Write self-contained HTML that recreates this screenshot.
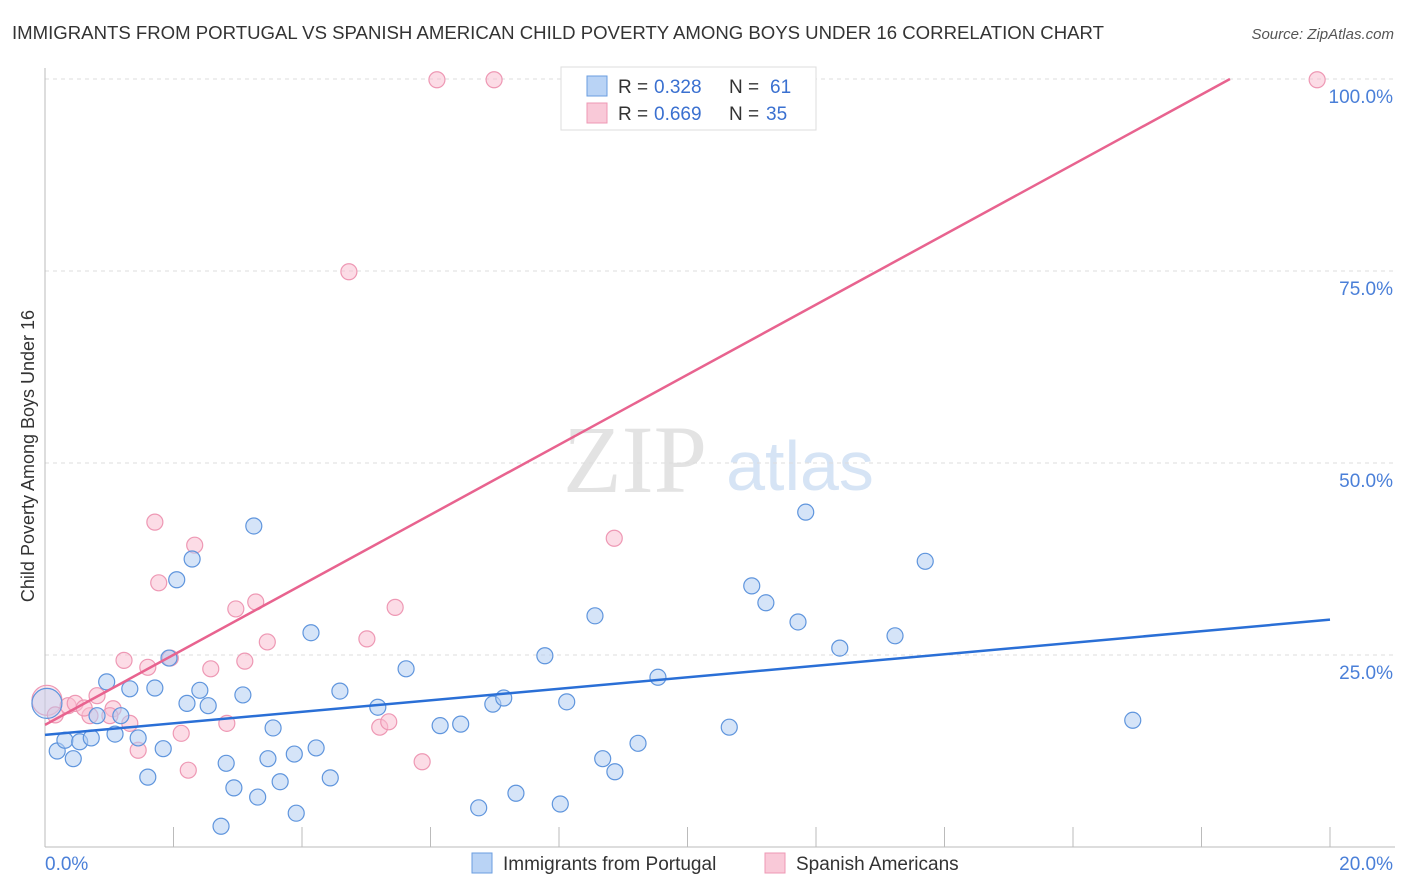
<!DOCTYPE html>
<html><head><meta charset="utf-8"><style>
body{margin:0;background:#fff;font-family:"Liberation Sans",sans-serif;}
svg{display:block}
</style></head><body>
<svg id="chart" width="1406" height="892">
<text x="12" y="39" font-size="18" fill="#333" textLength="1092" lengthAdjust="spacingAndGlyphs">IMMIGRANTS FROM PORTUGAL VS SPANISH AMERICAN CHILD POVERTY AMONG BOYS UNDER 16 CORRELATION CHART</text>
<text x="1394" y="39" font-size="15" fill="#555" font-style="italic" text-anchor="end">Source: ZipAtlas.com</text>
<text x="635" y="492" font-size="96" fill="#e3e3e3" font-family="Liberation Serif,serif" text-anchor="middle">ZIP</text>
<text x="800" y="490" font-size="70" fill="#d6e4f5" text-anchor="middle">atlas</text>
<text transform="translate(34,456) rotate(-90)" font-size="18" fill="#333" text-anchor="middle">Child Poverty Among Boys Under 16</text>
<g id="grid"></g><g id="pts"></g><g id="lines"></g>
<g>
<rect x="561" y="67" width="255" height="63" fill="#fff" stroke="#ddd"/>
<rect x="587" y="76" width="20" height="20" fill="#b9d3f5" stroke="#6a9ee0"/>
<rect x="587" y="103" width="20" height="20" fill="#f9c9d8" stroke="#ee98b4"/>
<text x="618" y="93" font-size="19" fill="#333">R =</text>
<text x="654" y="93" font-size="19" fill="#3a70d0">0.328</text>
<text x="729" y="93" font-size="19" fill="#333">N =</text>
<text x="770" y="93" font-size="19" fill="#3a70d0">61</text>
<text x="618" y="120" font-size="19" fill="#333">R =</text>
<text x="654" y="120" font-size="19" fill="#3a70d0">0.669</text>
<text x="729" y="120" font-size="19" fill="#333">N =</text>
<text x="766" y="120" font-size="19" fill="#3a70d0">35</text>
</g>
<rect x="472" y="853" width="20" height="20" fill="#b9d3f5" stroke="#6a9ee0"/>
<text x="503" y="870" font-size="19" fill="#333">Immigrants from Portugal</text>
<rect x="765" y="853" width="20" height="20" fill="#f9c9d8" stroke="#ee98b4"/>
<text x="796" y="870" font-size="19" fill="#333">Spanish Americans</text>
</svg>
<script>
const xTicks=[0,2,4,6,8,10,12,14,16,18,20];
const yTicks=[25,50,75,100];
const yTickLabels=["25.0%","50.0%","75.0%","100.0%"];
const blueX=[0.03,0.19,0.44,0.31,0.54,0.72,0.81,0.96,1.09,1.18,1.32,1.45,1.60,1.71,1.84,1.93,2.05,2.21,2.29,2.41,2.54,2.82,2.94,3.08,3.25,3.31,3.47,3.55,3.66,3.88,3.91,4.14,4.22,4.44,4.59,5.18,5.62,6.15,6.47,6.75,6.97,7.14,7.33,7.78,8.02,8.12,8.56,8.68,8.87,9.23,9.54,2.74,10.65,11.00,11.22,11.72,11.84,12.37,13.23,13.70,16.93];
const blueY=[18.7,12.5,11.5,13.9,13.7,14.2,17.1,21.5,14.7,17.1,20.6,14.2,9.1,20.7,12.8,24.6,34.8,18.7,37.5,20.4,18.4,10.9,7.7,19.8,41.8,6.5,11.5,15.5,8.5,12.1,4.4,27.9,12.9,9.0,20.3,18.2,23.2,15.8,16.0,5.1,18.6,19.4,7.0,24.9,5.6,18.9,30.1,11.5,9.8,13.5,22.1,2.7,15.6,34.0,31.8,29.3,43.6,25.9,27.5,37.2,16.5];
const pinkX=[0.03,0.16,0.36,0.47,0.81,0.70,1.06,1.01,1.23,1.32,1.45,1.60,1.71,1.77,1.95,2.12,2.23,2.33,2.58,2.83,2.97,3.11,3.28,3.46,4.73,5.01,5.21,5.35,5.45,5.87,6.10,6.99,8.86,19.80,0.61];
const pinkY=[19.1,17.2,18.4,18.7,19.7,17.1,18.0,17.1,24.3,16.1,12.6,23.4,42.3,34.4,24.6,14.8,10.0,39.3,23.2,16.1,31.0,24.2,31.9,26.7,74.9,27.1,15.6,16.3,31.2,11.1,99.9,99.9,40.2,99.9,18.1];
const blueTrend=[14.6,29.6];
const pinkTrend=[15.9,4.56];
const NS="http://www.w3.org/2000/svg";
const sx=v=>45+v/20*1285, sy=v=>847-v/100*768;
function mk(t,a,p){const e=document.createElementNS(NS,t);for(const k in a)e.setAttribute(k,a[k]);p.appendChild(e);return e;}
const g=document.getElementById('grid');
yTicks.forEach((t,i)=>{
 const l=mk('line',{x1:45,x2:1395,y1:sy(t),y2:sy(t),stroke:'#ddd','stroke-dasharray':'4,4'},g);
 
 
 const tx=mk('text',{x:1393,y:sy(t)+24,'font-size':19,fill:'#4a7fd8','text-anchor':'end'},g);
 tx.textContent=yTickLabels[i];
 
 
});
const ax=mk('line',{x1:45,x2:45,y1:68,y2:847,stroke:'#bbb'},g);


const bx=mk('line',{x1:45,x2:1395,y1:847,y2:847,stroke:'#bbb'},g);


xTicks.forEach(t=>{
 const l=mk('line',{x1:sx(t),x2:sx(t),y1:827,y2:847,stroke:'#bbb'},g);
 
 
});
[[0,"0.0%",'start',45],[20,"20.0%",'end',1393]].forEach(d=>{
 const tx=mk('text',{x:d[3],y:870,'font-size':19,fill:'#4a7fd8','text-anchor':d[2]},g);
 tx.textContent=d[1];
 
 
});
const p=document.getElementById('pts');
function draw(X,Y,fill,stroke,name){
 X.forEach((x,i)=>{
  const c=mk('circle',{cx:sx(x),cy:sy(Y[i]),r:i==0?15:8,fill:fill,'fill-opacity':i==0?0.4:0.55,stroke:stroke,'stroke-width':1.2},p);
  
  
 });
}
draw(pinkX,pinkY,'#f9c0d2','#ee98b4','spanish-point');
draw(blueX,blueY,'#b2cdf2','#5f95dd','portugal-point');
const L=document.getElementById('lines');
const bl=mk('line',{x1:sx(0),y1:sy(blueTrend[0]),x2:sx(20),y2:sy(blueTrend[1]),stroke:'#2a6fd6','stroke-width':2.5},L);


const xEnd=Math.min(20,(100-pinkTrend[0])/pinkTrend[1]);
const pl=mk('line',{x1:sx(0),y1:sy(pinkTrend[0]),x2:sx(xEnd),y2:sy(pinkTrend[0]+pinkTrend[1]*xEnd),stroke:'#e8638f','stroke-width':2.5},L);


</script>
</body></html>
